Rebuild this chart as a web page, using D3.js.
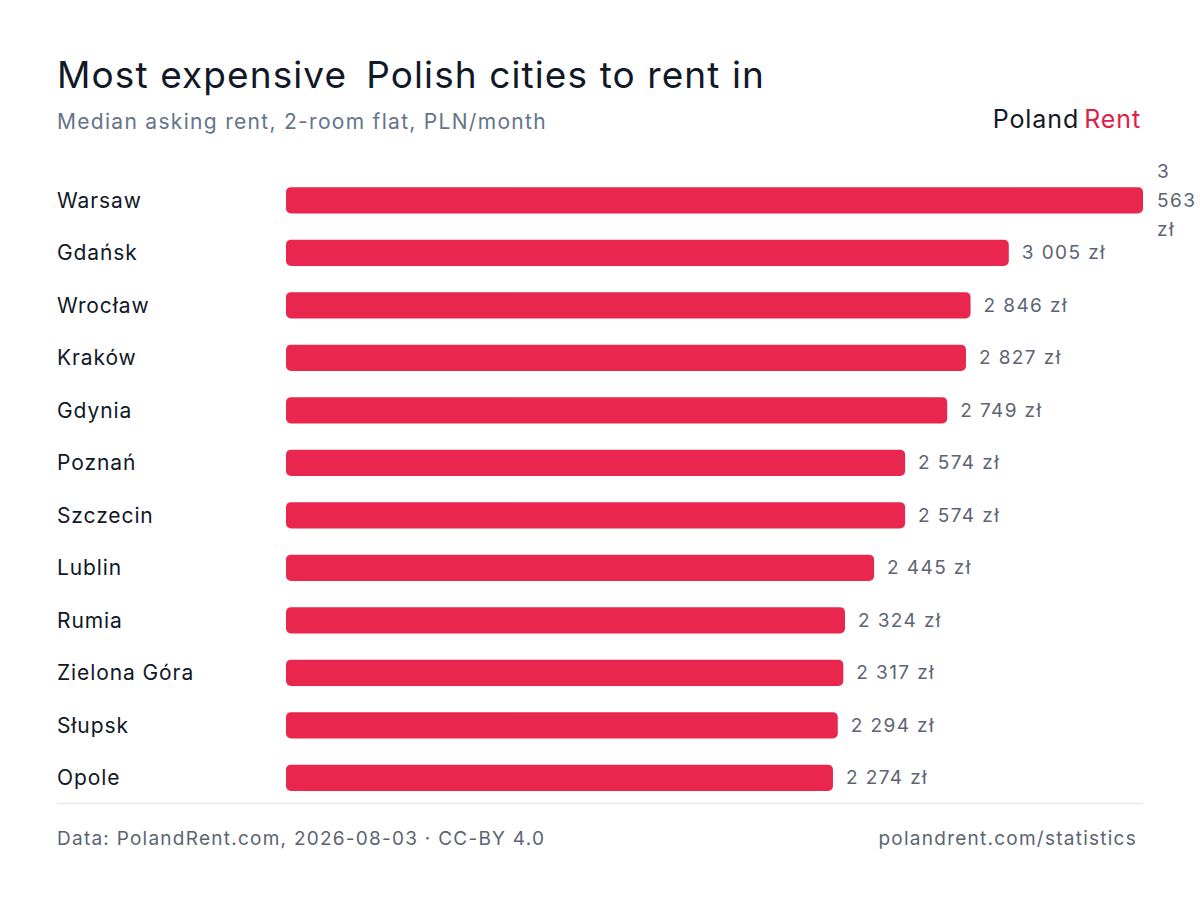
<!DOCTYPE html>
<html><head><meta charset="utf-8">
<script src="https://cdn.jsdelivr.net/npm/d3@7/dist/d3.min.js"></script>
<style>
html,body{margin:0;padding:0;background:#fff;}
svg{display:block;font-family:Inter,"Noto Sans",sans-serif;}
</style></head>
<body>
<svg id="chart" width="1200" height="900"></svg>
<script>
const cities = ["Warsaw","Gdańsk","Wrocław","Kraków","Gdynia","Poznań","Szczecin","Lublin","Rumia","Zielona Góra","Słupsk","Opole"];
const rents = [3563,3005,2846,2827,2749,2574,2574,2445,2324,2317,2294,2274];
const valueLabels = ["3 563 zł","3 005 zł","2 846 zł","2 827 zł","2 749 zł","2 574 zł","2 574 zł","2 445 zł","2 324 zł","2 317 zł","2 294 zł","2 274 zł"];

const svg = d3.select("#chart");
const left = 57, right = 1143, barX0 = 286;

const title = svg.append("text").attr("x", left).attr("y", 88)
  .attr("font-size", 37).attr("fill", "#111827").attr("letter-spacing", "1.1");
title.append("tspan").text("Most expensive");
title.append("tspan").attr("dx", 19).text("Polish cities to rent in");

svg.append("text").attr("x", left).attr("y", 129)
  .attr("font-size", 21).attr("fill", "#64748b").attr("letter-spacing", "1.3")
  .text("Median asking rent, 2-room flat, PLN/month");

const logo = svg.append("text").attr("x", 1141).attr("y", 128)
  .attr("text-anchor", "end").attr("font-size", 25).attr("letter-spacing", "0.9");
logo.append("tspan").attr("fill", "#111827").text("Poland");
logo.append("tspan").attr("fill", "#e11d48").attr("dx", 5).text("Rent");

const x = d3.scaleLinear().domain([0, d3.max(rents)]).range([barX0, right]);
const y = d3.scaleBand().domain(cities).range([174, 804]).paddingInner(0.5).paddingOuter(0.25);

const data = cities.map((c, i) => ({city: c, v: rents[i], label: valueLabels[i]}));
const g = svg.append("g");

g.selectAll("text.city").data(data).join("text").attr("class", "city")
  .attr("x", left).attr("y", d => y(d.city) + y.bandwidth() / 2)
  .attr("dy", "0.35em").attr("font-size", 21).attr("letter-spacing", "0.9").attr("fill", "#111827")
  .text(d => d.city);

g.selectAll("rect.bar").data(data).join("rect").attr("class", "bar")
  .attr("x", x(0)).attr("y", d => y(d.city))
  .attr("width", d => x(d.v) - x(0)).attr("height", y.bandwidth())
  .attr("rx", 5).attr("fill", "#e9264d");

g.selectAll("text.val").data(data).join("text").attr("class", "val")
  .attr("font-size", 19).attr("letter-spacing", "1.4").attr("fill", "#5b6473")
  .each(function(d) {
    const t = d3.select(this);
    const cx = x(d.v) + 13;
    const cy = y(d.city) + y.bandwidth() / 2;
    if (x(d.v) + 100 > 1200) {
      const parts = d.label.split(" ");
      parts.forEach((p, j) => {
        t.append("tspan").attr("x", cx + 1)
          .attr("y", cy + (j - (parts.length - 1) / 2) * 29)
          .attr("dy", "0.35em").text(p);
      });
    } else {
      t.attr("x", cx).attr("y", cy).attr("dy", "0.35em").text(d.label);
    }
  });

svg.append("line").attr("x1", left).attr("x2", right).attr("y1", 803.5).attr("y2", 803.5)
  .attr("stroke", "#e5e7eb").attr("stroke-width", 1.5);

svg.append("text").attr("x", left).attr("y", 845)
  .attr("font-size", 19).attr("letter-spacing", "1.25").attr("fill", "#5b6473")
  .text("Data: PolandRent.com, 2026-08-03 · CC-BY 4.0");
svg.append("text").attr("x", 1137).attr("y", 845).attr("text-anchor", "end")
  .attr("font-size", 19).attr("letter-spacing", "1.25").attr("fill", "#5b6473")
  .text("polandrent.com/statistics");
</script>
</body></html>
